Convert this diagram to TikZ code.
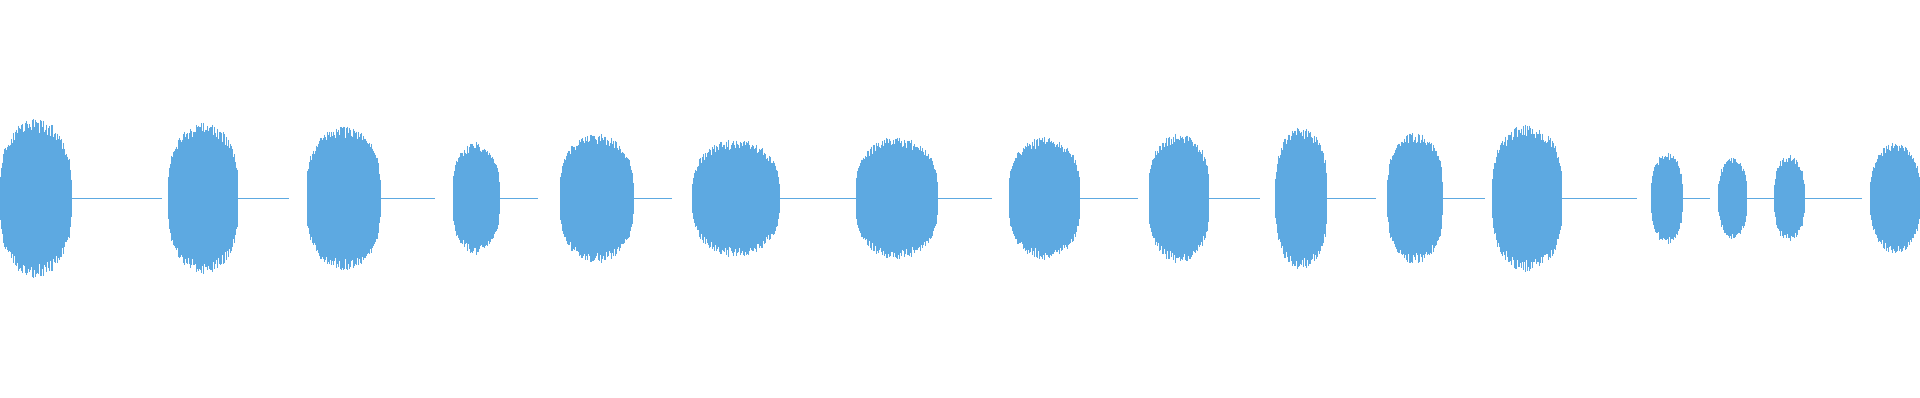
\documentclass[tikz,border=0pt]{standalone}
\usepackage{tikz}
\definecolor{wavecol}{HTML}{5DA9E1}
\tikzset{
  tail/.style={draw=wavecol, line width=0.4pt},
  spike/.style={draw=wavecol, line width=0.9pt}
}
\begin{document}
\begin{tikzpicture}[x=1.2245pt, y=-1.2245pt]
	 % Hintergrund und Rahmen:
	 \fill[white] (0,0) rectangle (1568,326.7);
	 \pgfmathsetseed{7}
	 % Bloecke: Anfang / Breite / Amplitude / Ende der Nulllinie
	 \foreach \a/\w/\h/\e in {0/58/65/133, 138/57/62/237, 252/60/59/357, 372/38/46/442,
	   460/60/53/552, 569/71/48/705, 703/67/50/815, 829/58/50/935, 944/49/53/1035,
	   1048/42/58/1130, 1140/45/54/1220, 1226/57/60/1345, 1357/25/37/1405,
	   1412/23/33/1458, 1458/24/35/1530, 1537/40/45/1568}{
	   % Nulllinie:
	   \draw[tail] (\a,163) -- (\e,163);
	   % einzelne Ausschlaege, zwei pro Einheit
	   \pgfmathtruncatemacro\n{2*\w}
	   \foreach \i in {0,...,\n}{
	     \pgfmathsetmacro\s{sin(180/(\n+1)*(\i+0.5))}
	     \pgfmathsetmacro\amp{\h*exp(0.3*ln(\s))*(0.82+0.18*rnd)+0.5}
	     \draw[spike] (\a+\i/2,163-\amp) -- ++(0,2*\amp);
	   }
	 }
\end{tikzpicture}
\end{document}
